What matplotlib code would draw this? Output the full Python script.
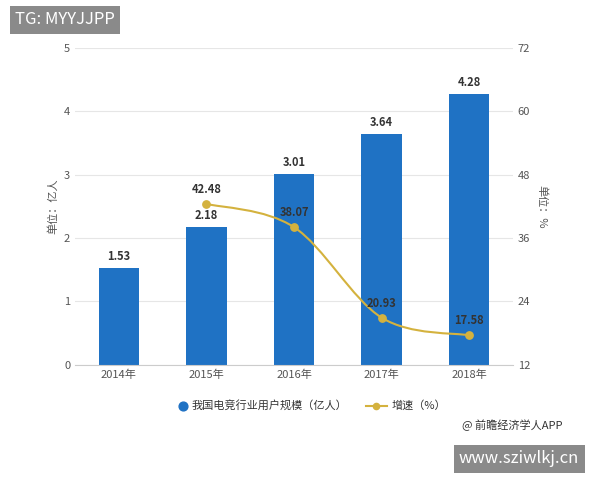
import numpy as np
import matplotlib.pyplot as plt
from matplotlib.path import Path
from matplotlib.patches import PathPatch

plt.rcParams['font.family'] = ['Noto Sans CJK SC', 'DejaVu Sans']

years = ['2014年', '2015年', '2016年', '2017年', '2018年']
users = [1.53, 2.18, 3.01, 3.64, 4.28]
growth_years = [1, 2, 3, 4]
growth = [42.48, 38.07, 20.93, 17.58]

bar_color = '#1f72c4'
line_color = '#d4b23e'

fig = plt.figure(figsize=(6, 4.8), dpi=100)
ax = fig.add_axes([0.125, 0.24, 0.73, 0.66])
ax2 = ax.twinx()

x = np.arange(len(years))
ax.bar(x, users, width=0.46, color=bar_color, zorder=2)
for xi, v in zip(x, users):
    ax.text(xi, v + 0.08, f'{v:.2f}', ha='center', va='bottom', fontsize=8,
            color='#333333', fontweight='bold')

ax.set_ylim(0, 5)
ax.set_yticks(range(6))
ax.set_xlim(-0.5, 4.5)
ax.set_xticks(x)
ax.set_xticklabels(years, fontsize=8)
ax.set_ylabel('单位：亿人', fontsize=8, color='#555555')
ax.grid(axis='y', color='#e6e6e6', lw=0.8, zorder=0)
ax.set_axisbelow(True)

ax2.set_ylim(12, 72)
ax2.set_yticks(range(12, 73, 12))
ax2.set_ylabel('单位：%', fontsize=8, color='#555555', rotation=270, labelpad=12)

for a in (ax, ax2):
    a.tick_params(labelsize=8, colors='#555555', length=0)
    for s in a.spines.values():
        s.set_visible(False)
ax.spines['bottom'].set_visible(True)
ax.spines['bottom'].set_color('#cccccc')

# smooth line (catmull-rom style bezier through the points)
gx = np.array(growth_years, float)
gy = np.array(growth, float)
verts = [(gx[0], gy[0])]
codes = [Path.MOVETO]
n = len(gx)
for i in range(n - 1):
    p0 = (gx[max(i - 1, 0)], gy[max(i - 1, 0)])
    p1 = (gx[i], gy[i])
    p2 = (gx[i + 1], gy[i + 1])
    p3 = (gx[min(i + 2, n - 1)], gy[min(i + 2, n - 1)])
    c1 = (p1[0] + (p2[0] - p0[0]) / 6, p1[1] + (p2[1] - p0[1]) / 6)
    c2 = (p2[0] - (p3[0] - p1[0]) / 6, p2[1] - (p3[1] - p1[1]) / 6)
    verts += [c1, c2, p2]
    codes += [Path.CURVE4] * 3
ax2.add_patch(PathPatch(Path(verts, codes), fill=False, ec=line_color, lw=1.5, zorder=3))
ax2.scatter(gx, gy, s=28, color=line_color, zorder=4)
for xi, v in zip(gx, gy):
    ax2.text(xi, v + 1.5, f'{v:.2f}', ha='center', va='bottom', fontsize=8,
             color='#333333', fontweight='bold', zorder=5)

# legend
ax.scatter([0.305], [0.155], s=40, color=bar_color, transform=fig.transFigure, clip_on=False)
fig.text(0.32, 0.155, '我国电竞行业用户规模（亿人）', fontsize=8, va='center', color='#333333')
fig.lines.append(plt.Line2D([0.61, 0.645], [0.155, 0.155], color=line_color, lw=1.5, transform=fig.transFigure))
ax.scatter([0.6275], [0.155], s=20, color=line_color, transform=fig.transFigure, clip_on=False)
fig.text(0.652, 0.155, '增速（%）', fontsize=8, va='center', color='#333333')

fig.text(0.77, 0.107, '@ 前瞻经济学人APP', fontsize=8, color='#333333')
fig.text(0.025, 0.95, 'TG: MYYJJPP', fontsize=12, color='white',
         bbox=dict(facecolor='#8a8a8a', edgecolor='none', pad=4))
fig.text(0.765, 0.035, 'www.sziwlkj.cn', fontsize=12, color='white',
         bbox=dict(facecolor='#8a8a8a', edgecolor='none', pad=4))

fig.savefig('out.png', dpi=100)
